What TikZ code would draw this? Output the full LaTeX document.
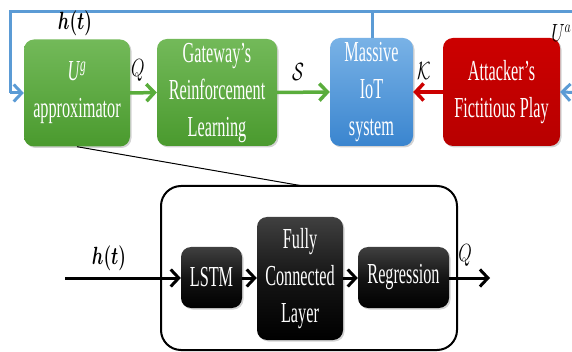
\documentclass[tikz,border=0pt]{standalone}
\usepackage{fontspec}
\usepackage{graphicx}
\setmainfont[FakeStretch=0.56]{Liberation Serif}
\usetikzlibrary{arrows.meta,shadows}

\definecolor{gwgreen}{HTML}{5AAD3C}
\definecolor{gwgreendark}{HTML}{4A9A2E}
\definecolor{iotblue}{HTML}{5B9BD5}
\definecolor{iotlight}{HTML}{79B2E6}
\definecolor{iotdark}{HTML}{3A85CF}
\definecolor{attred}{HTML}{CC0000}

\newcommand\lbl[1]{\scalebox{0.7}[1]{#1}}

\tikzset{
  blk/.style={rounded corners=10pt, align=center, text=white,
    font=\fontsize{29}{37}\selectfont, inner sep=0pt,
    drop shadow={shadow xshift=1.5pt, shadow yshift=-1.5pt, opacity=0.35}},
  greenbox/.style={blk, top color=gwgreen!85!white, bottom color=gwgreendark},
  bluebox/.style={blk, top color=iotlight, bottom color=iotdark},
  redbox/.style={blk, top color=attred, bottom color=attred!90!black},
  darkbox/.style={blk, top color=black!75, bottom color=black, middle color=black!92},
  lab/.style={font=\fontsize{24}{28}\selectfont, inner sep=0pt},
  barb/.style={-{Straight Barb[length=8pt,width=17pt]}},
  garrow/.style={barb, line width=3.5pt, draw=gwgreen},
  barrow/.style={barb, line width=3pt, draw=iotblue},
  rarrow/.style={barb, line width=3.5pt, draw=attred},
  karrow/.style={barb, line width=3pt, draw=black},
  bline/.style={line width=3pt, draw=iotblue},
}

\begin{document}
\begin{tikzpicture}[x=1pt, y=-1pt]
\useasboundingbox (0,0) rectangle (572,352);
\clip (0,0) rectangle (572,352);

% top row
\node[greenbox, minimum width=106pt, minimum height=107pt] (ug) at (77,93)
  {\textit{U}\textsuperscript{\textit{g}}\\approximator};
\node[greenbox, minimum width=120pt, minimum height=107pt] (gw) at (217,92.5)
  {Gateway’s\\Reinforcement\\Learning};
\node[bluebox, minimum width=83pt, minimum height=108pt] (iot) at (371.5,92)
  {Massive\\IoT\\system};
\node[redbox, minimum width=117pt, minimum height=108pt] (att) at (501.5,92)
  {Attacker’s\\Fictitious Play};

% feedback bus
\coordinate (busL) at (10,12);
\coordinate (busD) at (10,93);
\coordinate (busR) at (590,12);
\coordinate (busT) at (372,12);
\coordinate (inR) at (590,93);
\draw[bline] (busR) -- (busL) -- (busD);
\draw[barrow] (busD) -- (ug.west);
\draw[bline] (busT) -- (iot.north -| busT);
\draw[barrow] (inR) -- (att.east);

\draw[garrow] (ug.east) -- (gw.west);
\draw[garrow] (gw.east) -- (iot.west);
\draw[rarrow] (att.west) -- (iot.east);

\node[lab] (hlab) at (75,23) {\lbl{\boldmath$h(t)$}};
\node[lab] (qlab) at (138,70) {\lbl{$Q$}};
\node[lab] (slab) at (298,72) {\lbl{$\mathcal{S}$}};
\node[lab] (klab) at (424,71) {\lbl{$\mathcal{K}$}};
\node[lab, anchor=east] (ualab) at (571.5,33) {\lbl{$U^{a}$}};

% zoomed approximator
\node[draw=black, line width=2pt, rounded corners=20pt,
  minimum width=296pt, minimum height=164pt] (big) at (309,268) {};
\coordinate (zoomend) at (303,186);
\draw[line width=1pt] (ug.south) -- (zoomend);

\node[darkbox, minimum width=61pt, minimum height=61pt] (lstm) at (211.5,277.5) {LSTM};
\node[darkbox, minimum width=86pt, minimum height=123pt] (fc) at (300,278.5)
  {Fully\\Connected\\Layer};
\node[darkbox, minimum width=91pt, minimum height=61pt] (reg) at (403.5,277.5) {Regression};

\coordinate (hin) at (65,278);
\coordinate (qout) at (490,278);
\draw[karrow] (hin) -- (lstm.west |- hin);
\draw[karrow] (lstm.east |- hin) -- (fc.west |- hin);
\draw[karrow] (fc.east |- hin) -- (reg.west |- hin);
\draw[karrow] (reg.east |- hin) -- (qout);

\node[lab] (hlab2) at (109,258) {\lbl{\boldmath$h(t)$}};
\node[lab] (qlab2) at (465,255) {\lbl{$Q$}};
\end{tikzpicture}
\end{document}
